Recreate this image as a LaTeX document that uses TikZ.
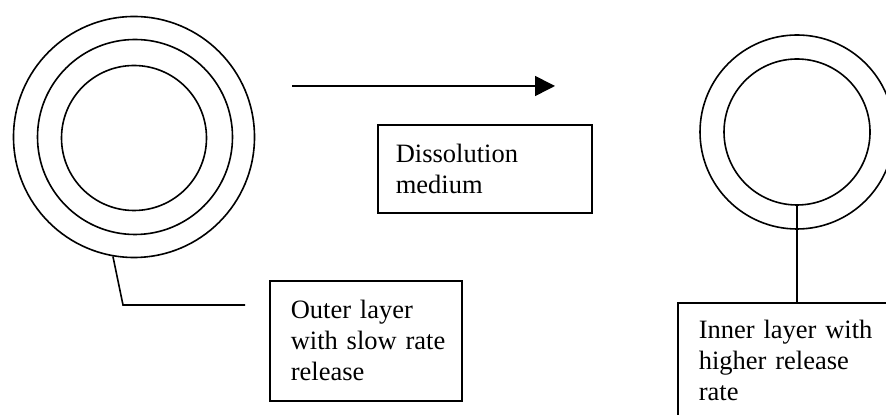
\documentclass[tikz,border=0pt]{standalone}
\usepackage{fontspec}
\setmainfont{Liberation Serif}
\usetikzlibrary{arrows.meta}

\begin{document}
\begin{tikzpicture}[x=0.5pt, y=-0.5pt, line width=0.8pt,
    ring/.style = {draw, circle, inner sep=0pt},
    box/.style = {draw, rectangle, anchor=north west, align=left, inner ysep=0pt,
        font=\fontsize{13.25}{15.5}\selectfont}]
    \useasboundingbox (0,0) rectangle (886,415);
    \clip (0,0) rectangle (886,415);
    % tablet before dissolution
    \node[ring, minimum size=120.5pt] (lout) at (134,137) {};
    \node[ring, minimum size=97.5pt] (lmid) at (135,137) {};
    \node[ring, minimum size=72.5pt] (lin) at (134,138) {};
    % tablet after dissolution
    \node[ring, minimum size=97pt] (rout) at (797,132) {};
    \node[ring, minimum size=73pt] (rin) at (797,132) {};
    % labels
    \node[box, minimum width=107pt, minimum height=44pt, text width=89pt, inner xsep=9pt]
        (medium) at (377,124) {Dissolution\\medium};
    \node[box, minimum width=96pt, minimum height=60pt, text width=75pt, inner xsep=10.5pt]
        (outer) at (269,280) {Outer layer\\\mbox{with slow rate}\\release};
    \node[box, minimum height=58pt, text width=110pt, inner xsep=10.5pt]
        (inner) at (677,302) {Inner layer with\\higher release\\rate};
    % arrow
    \coordinate (astart) at (292,86);
    \coordinate (aend) at (555,86);
    \draw[-{Triangle[length=10pt, width=10pt]}] (astart) -- (aend);
    % leaders
    \coordinate (lknee) at (123,305);
    \coordinate (lend) at (245,305);
    \draw (lout.260) -- (lknee) -- (lend);
    \draw (rin.south) -- (rin.south |- inner.north);
\end{tikzpicture}
\end{document}
